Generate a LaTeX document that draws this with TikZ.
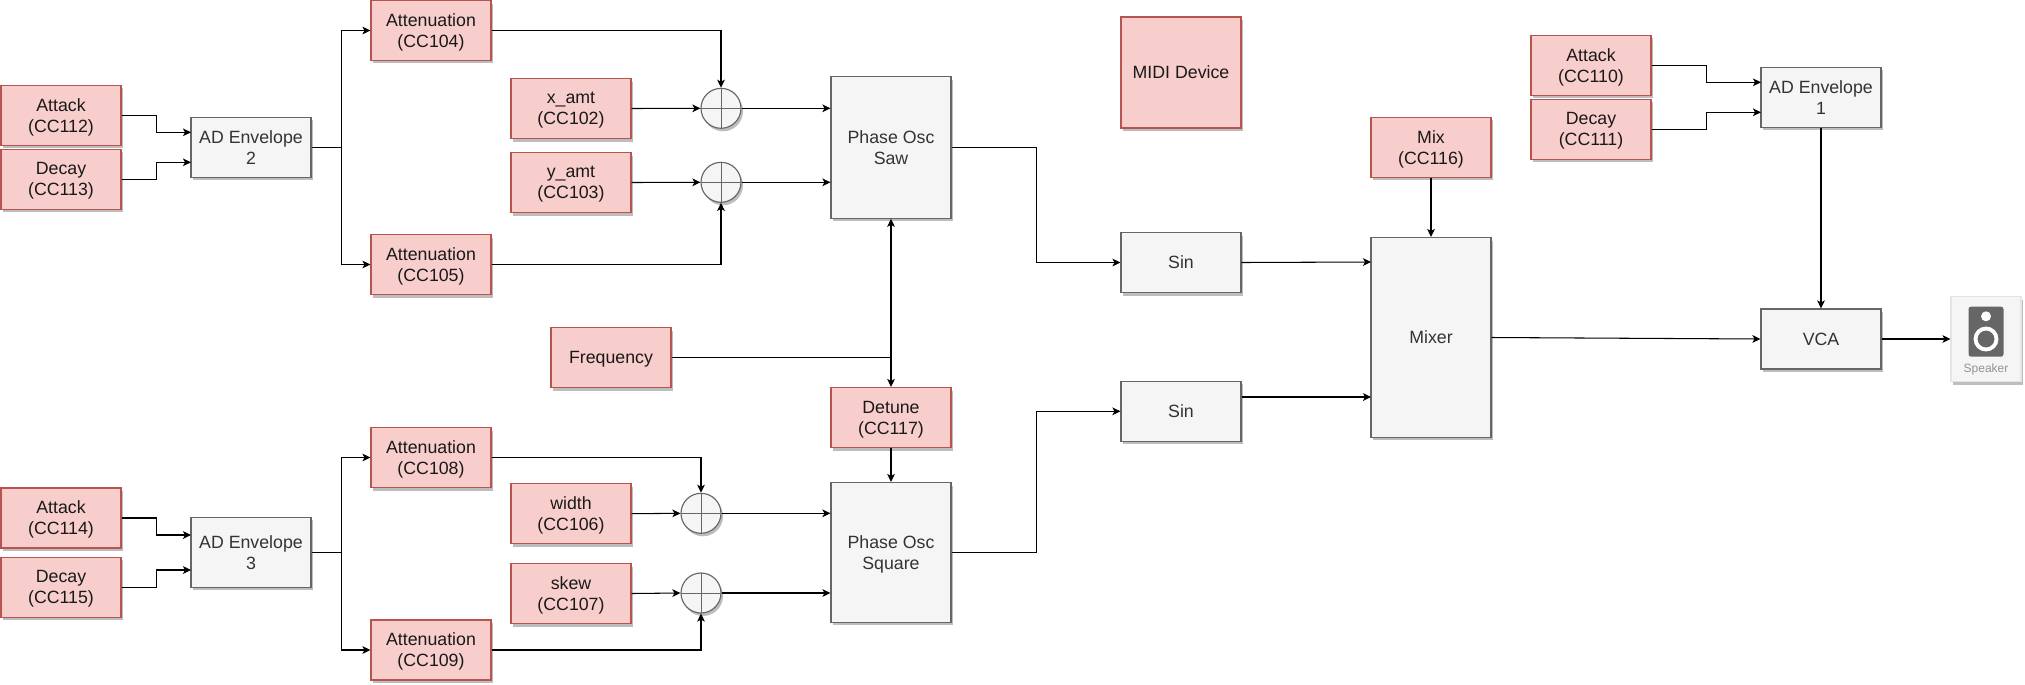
\documentclass[tikz,border=0pt]{standalone}
\usepackage{fontspec}
\setmainfont{Liberation Sans}
\usetikzlibrary{arrows.meta,shadows}
\definecolor{ctrlfill}{HTML}{F8CECC}
\definecolor{ctrlline}{HTML}{B85450}
\definecolor{blockfill}{HTML}{F5F5F5}
\definecolor{blockline}{HTML}{666666}
\definecolor{blocktext}{HTML}{333333}
\definecolor{shadowgrey}{HTML}{BDBDBD}
\definecolor{spkgrey}{HTML}{666666}
\definecolor{spkline}{HTML}{E4E4E4}
\newcommand{\nodepth}[1]{\raisebox{0pt}[\height][0pt]{#1}}
\tikzset{
  boxshadow/.style={general shadow={fill=shadowgrey,draw=none,shadow xshift=0.04cm,shadow yshift=-0.06cm}},
  ctrl/.style={draw=ctrlline,fill=ctrlfill,line width=0.65pt,boxshadow,minimum width=2.4cm,minimum height=1.2cm,
    inner sep=0pt,align=center,font=\fontsize{10.1}{11.9}\selectfont,text=black!90},
  block/.style={draw=blockline,fill=blockfill,line width=0.65pt,boxshadow,minimum width=2.4cm,minimum height=1.2cm,
    inner sep=0pt,align=center,font=\fontsize{10.1}{11.9}\selectfont,text=blocktext},
  sumjunction/.style={circle,draw=blockline,fill=blockfill,line width=0.65pt,boxshadow,minimum size=0.8cm,inner sep=0pt,
    path picture={\draw[blockline,line width=0.45pt] (path picture bounding box.north) -- (path picture bounding box.south)
      (path picture bounding box.west) -- (path picture bounding box.east);}},
  wire/.style={draw=black,line width=0.6pt,-{Stealth[length=4.6pt,width=4.4pt,inset=1.2pt]}},
}
\begin{document}
\begin{tikzpicture}[x=0.02cm,y=-0.02cm]
\useasboundingbox (0,0) rectangle (2025,684);
\node[ctrl] (attackb) at (61,115.3) {Attack\\\nodepth{(CC112)}};
\node[ctrl] (decayb) at (61,179.3) {Decay\\\nodepth{(CC113)}};
\node[block] (adb) at (251,147.3) {AD Envelope\\2};
\node[ctrl] (atta) at (431,30.5) {Attenuation\\\nodepth{(CC104)}};
\node[ctrl] (attb) at (431,264.5) {Attenuation\\\nodepth{(CC105)}};
\node[ctrl] (xamt) at (571,108.5) {x\_amt\\\nodepth{(CC102)}};
\node[ctrl] (yamt) at (571,182.5) {y\_amt\\\nodepth{(CC103)}};
\node[sumjunction] (sumx) at (721,108.3) {};
\node[sumjunction] (sumy) at (721,182.3) {};
\node[block,minimum height=2.83cm] (saw) at (891,147.5) {Phase Osc\\Saw};
\node[ctrl] (freq) at (611,357.5) {\nodepth{Frequency}};
\node[ctrl] (detune) at (891,417.5) {Detune\\\nodepth{(CC117)}};
\node[block,minimum height=2.8cm] (square) at (891,552.5) {Phase Osc\\\nodepth{Square}};
\node[ctrl] (attackc) at (61,518) {Attack\\\nodepth{(CC114)}};
\node[ctrl] (decayc) at (61,587.3) {Decay\\\nodepth{(CC115)}};
\node[block,minimum height=1.4cm] (adc) at (251,552.4) {AD Envelope\\3};
\node[ctrl] (attc) at (431,457.5) {Attenuation\\\nodepth{(CC108)}};
\node[ctrl] (attd) at (431,650) {Attenuation\\\nodepth{(CC109)}};
\node[ctrl] (wdth) at (571,513.7) {width\\\nodepth{(CC106)}};
\node[ctrl] (skew) at (571,593.5) {skew\\\nodepth{(CC107)}};
\node[sumjunction] (sumw) at (701,513.3) {};
\node[sumjunction] (sums) at (701,593) {};
\node[block] (sina) at (1181,262.5) {Sin};
\node[block] (sinb) at (1181,411.3) {Sin};
\node[ctrl,minimum height=2.22cm] (midi) at (1181,72.5) {MIDI Device};
\node[ctrl] (mix) at (1431,147.3) {Mix\\\nodepth{(CC116)}};
\node[block,minimum height=4cm] (mixer) at (1431,337.5) {Mixer};
\node[ctrl] (attacka) at (1591,65.3) {Attack\\\nodepth{(CC110)}};
\node[ctrl] (decaya) at (1591,129.3) {Decay\\\nodepth{(CC111)}};
\node[block] (ada) at (1821,97.3) {AD Envelope\\1};
\node[block] (vca) at (1821,339) {VCA};
\node[draw=spkline,fill=blockfill,line width=0.65pt,boxshadow,minimum width=1.4cm,minimum height=1.7cm,inner sep=0pt] (speaker) at (1986,339) {};
\node[fill=spkgrey,rounded corners=0.05cm,minimum width=0.7cm,minimum height=1cm,inner sep=0pt] (spkbody) at (1986,331.7) {};
\node[circle,fill=white,minimum size=0.2cm,inner sep=0pt] (spktweeter) at (1986,316.3) {};
\node[circle,draw=white,fill=spkgrey,line width=2.2pt,minimum size=0.42cm,inner sep=0pt] (spkwoofer) at (1986,339) {};
\node[text=gray!85,font=\fontsize{6.85}{8}\selectfont,inner sep=0pt] (spklabel) at (1986,369.3) {Speaker};
\coordinate (adbina) at (191,132.3);
\coordinate (adbinb) at (191,162.3);
\coordinate (adcina) at (191,535);
\coordinate (adcinb) at (191,570);
\coordinate (adaina) at (1761,82.3);
\coordinate (adainb) at (1761,112.3);
\coordinate (mixina) at (1371,262);
\coordinate (mixinb) at (1371,397);
\draw[wire] (attackb.east) -- ++(35,0) |- (adbina);
\draw[wire] (decayb.east) -- ++(35,0) |- (adbinb);
\draw[wire] (adb.east) -- ++(30,0) |- (atta.west);
\draw[wire] (adb.east) -- ++(30,0) |- (attb.west);
\draw[wire] (atta.east) -| (sumx.north);
\draw[wire] (attb.east) -| (sumy.south);
\draw[wire] (xamt.east) -- (sumx.west);
\draw[wire] (yamt.east) -- (sumy.west);
\draw[wire] (sumx.east) -- (sumx.east -| saw.west);
\draw[wire] (sumy.east) -- (sumy.east -| saw.west);
\draw[wire] (freq.east) -| (saw.south);
\draw[wire] (freq.east) -| (detune.north);
\draw[wire] (detune.south) -- (square.north);
\draw[wire] (attackc.east) -- ++(35,0) |- (adcina);
\draw[wire] (decayc.east) -- ++(35,0) |- (adcinb);
\draw[wire] (adc.east) -- ++(30,0) |- (attc.west);
\draw[wire] (adc.east) -- ++(30,0) |- (attd.west);
\draw[wire] (attc.east) -| (sumw.north);
\draw[wire] (attd.east) -| (sums.south);
\draw[wire] (wdth.east) -- (sumw.west);
\draw[wire] (skew.east) -- (sums.west);
\draw[wire] (sumw.east) -- (sumw.east -| square.west);
\draw[wire] (sums.east) -- (sums.east -| square.west);
\draw[wire] (saw.east) -- ++(84.7,0) |- (sina.west);
\draw[wire] (square.east) -- ++(84.7,0) |- (sinb.west);
\draw[wire] (sina.east) -- (mixina);
\draw[wire] (mixinb -| sinb.east) -- (mixinb);
\draw[wire] (mix.south) -- (mixer.north);
\draw[wire] (mixer.east) -- (vca.west);
\draw[wire] (attacka.east) -- ++(55,0) |- (adaina);
\draw[wire] (decaya.east) -- ++(55,0) |- (adainb);
\draw[wire] (ada.south) -- (vca.north);
\draw[wire] (vca.east) -- (speaker.west);
\end{tikzpicture}
\end{document}
